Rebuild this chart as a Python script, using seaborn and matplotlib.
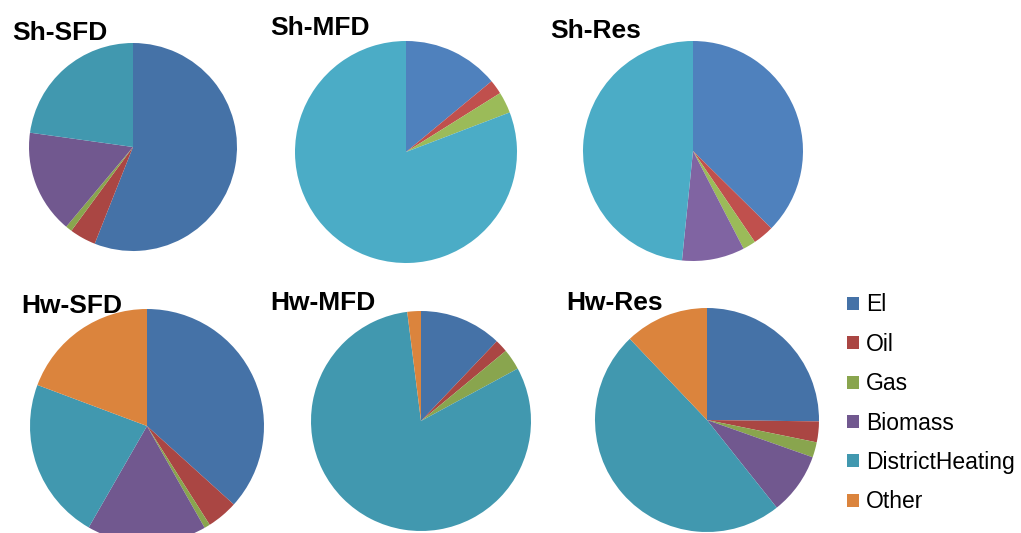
import matplotlib
matplotlib.use("Agg")
import matplotlib.pyplot as plt
from matplotlib.patches import Patch
import seaborn as sns

sns.set_theme(style="white")
plt.rcParams["font.family"] = ["Liberation Sans", "DejaVu Sans"]

# Energy carriers and their shares (%) for space heating (Sh) and hot water (Hw)
categories = ["El", "Oil", "Gas", "Biomass", "DistrictHeating", "Other"]
sh_sfd = [56.0, 4.1, 1.0, 16.1, 22.8, 0.0]
sh_mfd = [14.0, 2.1, 3.1, 0.0, 80.8, 0.0]
sh_res = [37.4, 3.1, 1.9, 9.2, 48.4, 0.0]
hw_sfd = [36.7, 4.3, 0.8, 16.5, 22.4, 19.3]
hw_mfd = [12.1, 1.9, 3.1, 0.0, 80.9, 2.0]
hw_res = [25.2, 3.0, 2.2, 8.9, 48.6, 12.1]
titles = ["Sh-SFD", "Sh-MFD", "Sh-Res", "Hw-SFD", "Hw-MFD", "Hw-Res"]

dark = sns.color_palette(["#4572A7", "#AA4643", "#89A54E", "#71588F", "#4198AF", "#DB843D"])
light = sns.color_palette(["#4F81BD", "#C0504D", "#9BBB59", "#8064A2", "#4BACC6", "#F79646"])

W, H = 1021, 533
fig = plt.figure(figsize=(W / 100, H / 100), dpi=100)

# pie centre x, centre y, radius (pixels), title x, title y, palette
layout = [
    (133, 147, 104, 12, 33, dark),
    (406, 152, 111, 270, 28, light),
    (693, 151, 110, 550, 31, light),
    (147, 426, 117, 21, 306, dark),
    (421, 421, 110, 270, 303, dark),
    (707, 420, 112, 566, 303, dark),
]
series = [sh_sfd, sh_mfd, sh_res, hw_sfd, hw_mfd, hw_res]

for vals, title, (cx, cy, r, tx, ty, pal) in zip(series, titles, layout):
    ax = fig.add_axes([(cx - r) / W, 1 - (cy + r) / H, 2 * r / W, 2 * r / H])
    ax.pie(vals, colors=pal, startangle=90, counterclock=False,
           wedgeprops=dict(linewidth=0), radius=1.0)
    ax.set_xlim(-1, 1)
    ax.set_ylim(-1, 1)
    ax.set_axis_off()
    fig.text(tx / W, 1 - ty / H, title, ha="left", va="center",
             fontsize=19, fontweight="bold", color="black")

handles = [Patch(facecolor=c, edgecolor="none") for c in dark]
leg = fig.legend(handles, categories, loc="upper left",
                 bbox_to_anchor=(836 / W, 1 - 282 / H), frameon=False,
                 fontsize=16.5, handlelength=0.5, handleheight=0.5,
                 handletextpad=0.3, labelspacing=0.715, borderpad=0)
for t in leg.get_texts():
    t.set_color("black")

fig.savefig("out.png", dpi=100, facecolor="white")
